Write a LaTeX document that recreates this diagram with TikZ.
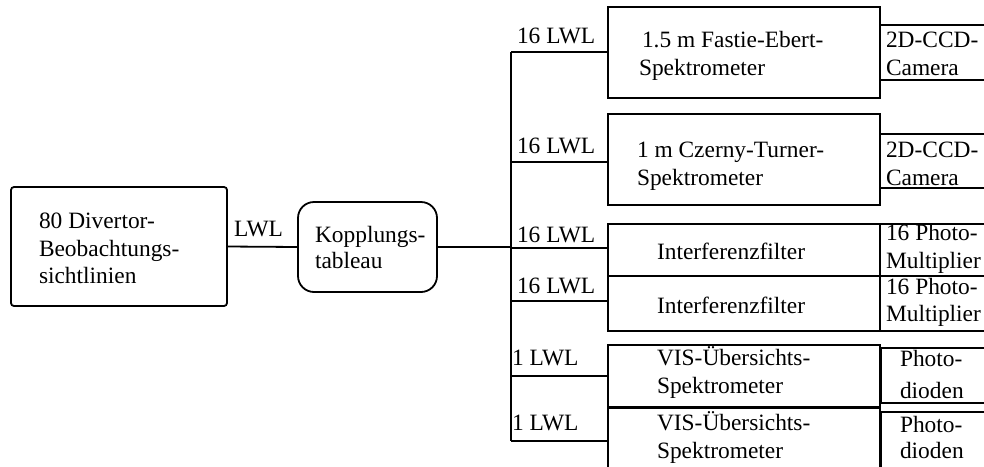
\documentclass[tikz,border=0pt]{standalone}
\usepackage{fontspec}
\setmainfont{Liberation Serif}
\begin{document}
\begin{tikzpicture}[x=1pt,y=-1pt,
  every node/.style={inner sep=0pt, outer sep=0pt},
  box/.style={draw, line width=1.8pt, anchor=north west},
  txt/.style={anchor=base west, font=\fontsize{23.4}{28}\selectfont},
  conn/.style={line width=1.8pt}]
\useasboundingbox (0,0) rectangle (984,466);
\clip (0,0) rectangle (984,466);
% main boxes
\node[box, rounded corners=3pt, minimum width=216pt, minimum height=119pt] (src) at (11,187) {};
\node[box, rounded corners=16pt, minimum width=139pt, minimum height=90pt] (kop) at (298,202) {};
\node[box, minimum width=272pt, minimum height=91pt] (b1) at (608,7) {};
\node[box, minimum width=272pt, minimum height=91pt] (b2) at (608,114) {};
\node[box, minimum width=272pt, minimum height=52pt] (b3) at (608,224) {};
\node[box, minimum width=272pt, minimum height=55pt] (b4) at (608,276) {};
\node[box, minimum width=272pt, minimum height=62pt] (b5) at (608,345) {};
\node[box, minimum width=272pt, minimum height=90pt] (b6) at (608,408) {};
% detector boxes (cut off at right)
\node[box, minimum width=130pt, minimum height=55pt] (c1) at (880,25) {};
\node[box, minimum width=130pt, minimum height=54pt] (c2) at (880,134) {};
\node[box, minimum width=130pt, minimum height=52pt] (c3) at (880,224) {};
\node[box, minimum width=130pt, minimum height=55pt] (c4) at (880,276) {};
\node[box, minimum width=130pt, minimum height=55pt] (c5) at (881,348) {};
\node[box, minimum width=130pt, minimum height=90pt] (c6) at (881,412) {};
% connectors
\coordinate (j) at (511,247);
\coordinate (t1) at (511,52);
\coordinate (t2) at (511,162);
\coordinate (t3) at (511,248);
\coordinate (t4) at (511,301);
\coordinate (t5) at (511,376);
\coordinate (t6) at (511,441);
\draw[conn] (src.east) -- (kop.west);
\draw[conn] (kop.east) -- (j);
\draw[conn] (t1) -- (t6);
\draw[conn] (t1) -- (t1 -| b1.west);
\draw[conn] (t2) -- (t2 -| b2.west);
\draw[conn] (t3) -- (t3 -| b3.west);
\draw[conn] (t4) -- (t4 -| b4.west);
\draw[conn] (t5) -- (t5 -| b5.west);
\draw[conn] (t6) -- (t6 -| b6.west);
% texts
\node[txt] (s1) at (39,228) {80 Divertor-};
\node[txt] (s2) at (39,256) {Beobachtungs-};
\node[txt] (s3) at (39,283) {sichtlinien};
\node[txt] (l0) at (234,236) {LWL};
\node[txt] (k1) at (315,242) {Kopplungs-};
\node[txt] (k2) at (315,268) {tableau};
\node[txt] (l1) at (517,43) {16 LWL};
\node[txt] (l2) at (517,153) {16 LWL};
\node[txt] (l3) at (517,242) {16 LWL};
\node[txt] (l4) at (517,293) {16 LWL};
\node[txt] (l5) at (512,365) {1 LWL};
\node[txt] (l6) at (512,430) {1 LWL};
\node[txt] (b1a) at (642,47) {1.5 m Fastie-Ebert-};
\node[txt] (b1b) at (639,75) {Spektrometer};
\node[txt] (c1a) at (886,47) {2D-CCD-};
\node[txt] (c1b) at (886,75) {Camera};
\node[txt] (b2a) at (637,157) {1 m Czerny-Turner-};
\node[txt] (b2b) at (637,185) {Spektrometer};
\node[txt] (c2a) at (886,157) {2D-CCD-};
\node[txt] (c2b) at (886,185) {Camera};
\node[txt] (b3a) at (657,259) {Interferenzfilter};
\node[txt] (c3a) at (886,240) {16 Photo-};
\node[txt] (c3b) at (886,268) {Multiplier};
\node[txt] (b4a) at (657,313) {Interferenzfilter};
\node[txt] (c4a) at (886,294) {16 Photo-};
\node[txt] (c4b) at (886,321) {Multiplier};
\node[txt] (b5a) at (657,365) {VIS-Übersichts-};
\node[txt] (b5b) at (657,393) {Spektrometer};
\node[txt] (c5a) at (900,366) {Photo-};
\node[txt] (c5b) at (900,398) {dioden};
\node[txt] (b6a) at (657,430) {VIS-Übersichts-};
\node[txt] (b6b) at (657,458) {Spektrometer};
\node[txt] (c6a) at (900,432) {Photo-};
\node[txt] (c6b) at (900,458) {dioden};
\end{tikzpicture}
\end{document}
